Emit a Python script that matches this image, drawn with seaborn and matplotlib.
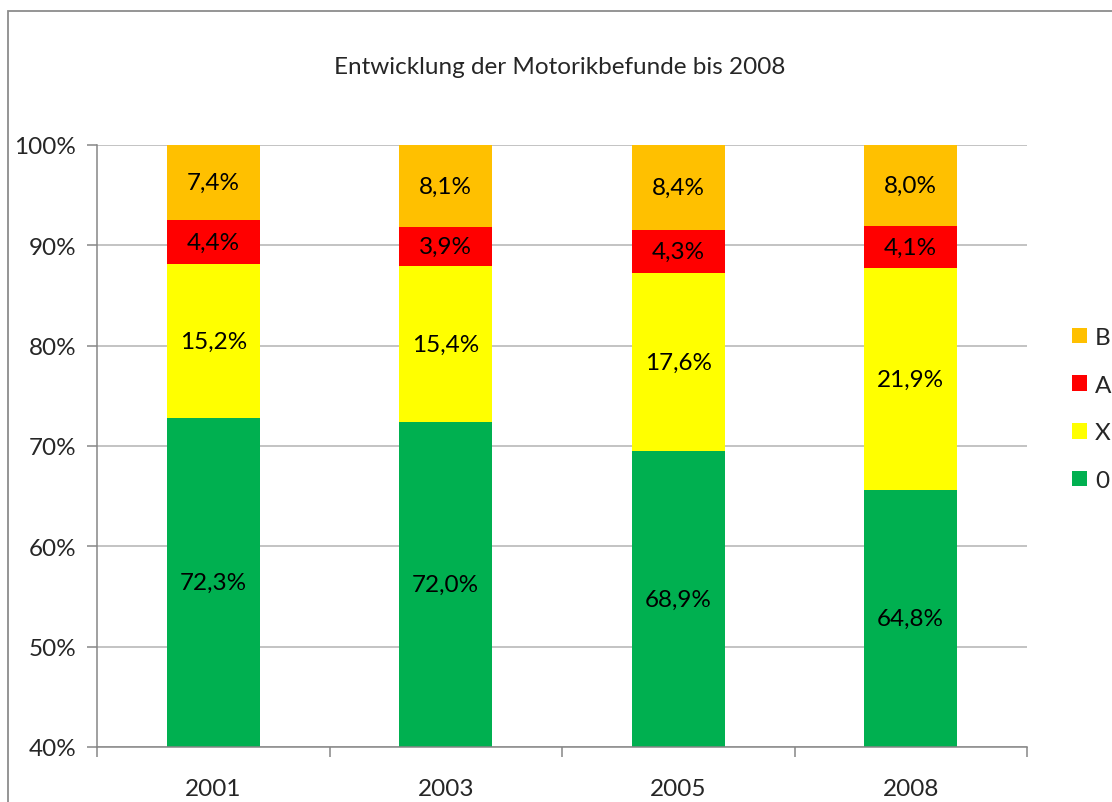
import matplotlib
matplotlib.use("Agg")
import numpy as np
import pandas as pd
import matplotlib.pyplot as plt
from matplotlib.patches import Patch, Rectangle
import seaborn as sns

# Data (values as labelled, in percent)
years = ['2001', '2003', '2005', '2008']
befund_0 = [72.3, 72.0, 68.9, 64.8]
befund_x = [15.2, 15.4, 17.6, 21.9]
befund_a = [4.4, 3.9, 4.3, 4.1]
befund_b = [7.4, 8.1, 8.4, 8.0]
series_names = ['0', 'X', 'A', 'B']
series_colors = ['#00B050', '#FFFF00', '#FF0000', '#FFC000']
y_ticks = [40, 50, 60, 70, 80, 90, 100]

TITLE = 'Entwicklung der Motorikbefunde bis 2008'
Y_MIN, Y_MAX = 40, 100
FS = 17.5


def build_frame():
    rows = []
    for i, year in enumerate(years):
        vals = [befund_0[i], befund_x[i], befund_a[i], befund_b[i]]
        total = sum(vals)
        bottom = 0.0
        for name, v in zip(series_names, vals):
            share = v / total * 100
            rows.append({'year': year, 'series': name, 'value': v,
                         'bottom': bottom, 'top': bottom + share})
            bottom += share
    return pd.DataFrame(rows)


def fmt_pct(v):
    return f"{v:.1f}".replace('.', ',') + '%'


def main():
    sns.set_theme(style='white')
    plt.rcParams['font.family'] = ['Lato', 'DejaVu Sans']

    df = build_frame()
    W, H = 1112, 803
    fig = plt.figure(figsize=(W / 100, H / 100), dpi=100)
    ax = fig.add_axes([97 / W, 1 - 748 / H, (1027 - 97) / W, (748 - 146) / H])

    # stacked bars: draw cumulative tops from the highest series down
    for name, color in reversed(list(zip(series_names, series_colors))):
        part = df[df['series'] == name]
        sns.barplot(data=part, x='year', y='top', order=years, color=color,
                    saturation=1, width=0.4, errorbar=None, linewidth=0,
                    ax=ax, zorder=2)

    # data labels
    for _, r in df.iterrows():
        xi = years.index(r['year'])
        lo = max(r['bottom'], Y_MIN)
        ax.text(xi, (lo + r['top']) / 2, fmt_pct(r['value']), ha='center',
                va='center', fontsize=FS, color='black', zorder=3)

    ax.set_ylim(Y_MIN, Y_MAX)
    ax.set_xlim(-0.5, len(years) - 0.5)
    ax.set_yticks(y_ticks)
    ax.set_yticklabels([f"{t}%" for t in y_ticks], fontsize=FS)
    ax.yaxis.grid(True, color='#B3B3B3', linewidth=1.1, zorder=0)
    ax.set_axisbelow(True)
    ax.set_xlabel('')
    ax.set_ylabel('')

    ax.set_xticks(np.arange(len(years)))
    ax.set_xticklabels(years, fontsize=FS)
    ax.set_xticks(np.arange(-0.5, len(years)), minor=True)
    ax.tick_params(axis='x', which='major', length=0, pad=22)
    ax.tick_params(axis='x', which='minor', length=7, width=1.1,
                   color='#868686', direction='out', bottom=True)
    ax.tick_params(axis='y', length=7, width=1.1, color='#868686',
                   direction='out', left=True, pad=8)

    for side in ['top', 'right']:
        ax.spines[side].set_visible(False)
    for side in ['left', 'bottom']:
        ax.spines[side].set_color('#868686')
        ax.spines[side].set_linewidth(1.1)

    fig.text(560 / W, 1 - 68 / H, TITLE, ha='center', va='center', fontsize=FS)

    handles = [Patch(facecolor=c, edgecolor='none', label=n)
               for n, c in zip(series_names, series_colors)]
    fig.legend(handles=handles[::-1], loc='center left',
               bbox_to_anchor=(1060 / W, 1 - 410 / H), frameon=False,
               fontsize=FS, handlelength=0.6, handleheight=0.6,
               handletextpad=0.35, labelspacing=1.1, borderpad=0)

    # outer chart border (cut off at right and bottom)
    fig.patches.append(Rectangle((8 / W, -0.1), 1.2, 1 - 12 / H + 0.1,
                                 transform=fig.transFigure, fill=False,
                                 edgecolor='#8C8C8C', linewidth=1.3))

    fig.savefig('out.png', dpi=100)
    plt.close(fig)


if __name__ == '__main__':
    main()
